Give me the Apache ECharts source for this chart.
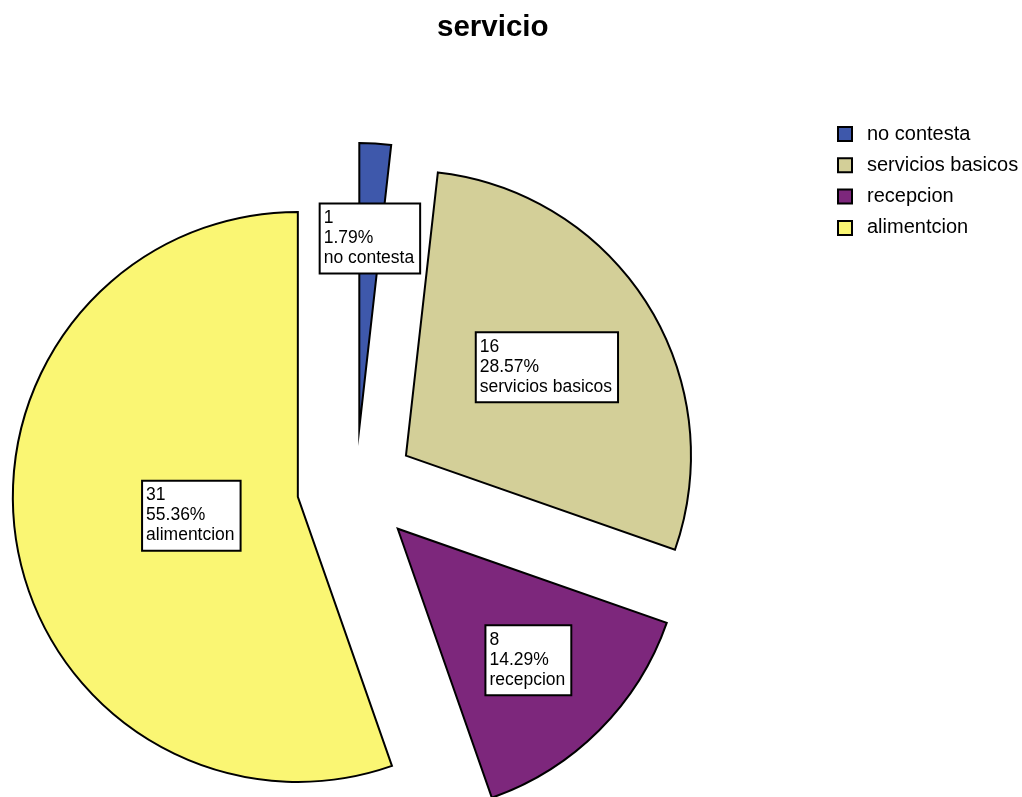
<!DOCTYPE html>
<html>
<head>
<meta charset="utf-8">
<title>servicio</title>
<script src="https://cdn.jsdelivr.net/npm/echarts@6/dist/echarts.min.js"></script>
<style>
  html, body { margin: 0; padding: 0; background: #ffffff; }
  #chart { width: 1022px; height: 797px; }
</style>
</head>
<body>
<div id="chart"></div>
<script>
// Category names and counts for the "servicio" question
const categories = ['no contesta', 'servicios basicos', 'recepcion', 'alimentcion'];
const counts = [1, 16, 8, 31];
const sliceColors = ['#3e58ab', '#d3cf98', '#7d277c', '#faf673'];

// Pie geometry (pixels)
const pieCenter = [356, 487];
const pieRadius = 285;
const explode = 59;
// distance of each label box centre from its slice's apex, plus a small nudge
const labelDistance = [186, 167, 186, 103];
const labelNudge = [[2, 1], [-1, 4], [-1, 0], [0, 3]];

const total = counts.reduce((a, b) => a + b, 0);
const midAngles = [];
let cum = 0;
for (const v of counts) {
  midAngles.push((cum + v / 2) / total * 2 * Math.PI);
  cum += v;
}

const fontFamily = '"Liberation Sans", Arial, sans-serif';

const chart = echarts.init(document.getElementById('chart'), null, { renderer: 'canvas' });

chart.setOption({
  animation: false,
  backgroundColor: '#ffffff',
  title: {
    text: 'servicio',
    left: 432,
    top: 8,
    textStyle: { fontFamily, fontSize: 29.5, fontWeight: 'bold', color: '#000' }
  },
  legend: {
    orient: 'vertical',
    left: 832,
    top: 119,
    icon: 'rect',
    itemWidth: 14,
    itemHeight: 14,
    itemGap: 11.3,
    selectedMode: false,
    data: categories,
    itemStyle: { borderColor: '#000', borderWidth: 2 },
    textStyle: { fontFamily, fontSize: 20, color: '#000', padding: [0, 0, 0, 10] }
  },
  series: [{
    type: 'pie',
    center: pieCenter,
    radius: pieRadius,
    startAngle: 90,
    clockwise: true,
    selectedMode: 'multiple',
    selectedOffset: explode,
    emphasis: { disabled: true },
    itemStyle: { borderColor: '#000', borderWidth: 2, borderJoin: 'miter', borderMiterLimit: 30 },
    select: {
      itemStyle: { borderColor: '#000', borderWidth: 2 },
      label: { color: '#000' }
    },
    label: {
      show: true,
      position: 'inside',
      formatter: function (p) {
        return p.value + '\n' + (p.value / total * 100).toFixed(2) + '%\n' + p.name;
      },
      fontFamily,
      fontSize: 17.5,
      lineHeight: 20,
      color: '#000',
      align: 'left',
      backgroundColor: '#ffffff',
      borderColor: '#000',
      borderWidth: 2,
      padding: [4, 5, 4, 3]
    },
    labelLine: { show: false },
    // move each boxed label along its slice's bisector, keeping the lines left-aligned
    labelLayout: function (p) {
      const i = p.dataIndex;
      const a = midAngles[i];
      const k = labelDistance[i] - pieRadius / 2;
      return {
        dx: k * Math.sin(a) - p.labelRect.width / 2 + labelNudge[i][0],
        dy: -k * Math.cos(a) - p.labelRect.height / 2 + labelNudge[i][1],
        align: 'left',
        verticalAlign: 'top'
      };
    },
    data: categories.map((name, i) => ({
      name,
      value: counts[i],
      selected: true,
      itemStyle: { color: sliceColors[i] }
    }))
  }]
});
</script>
</body>
</html>
